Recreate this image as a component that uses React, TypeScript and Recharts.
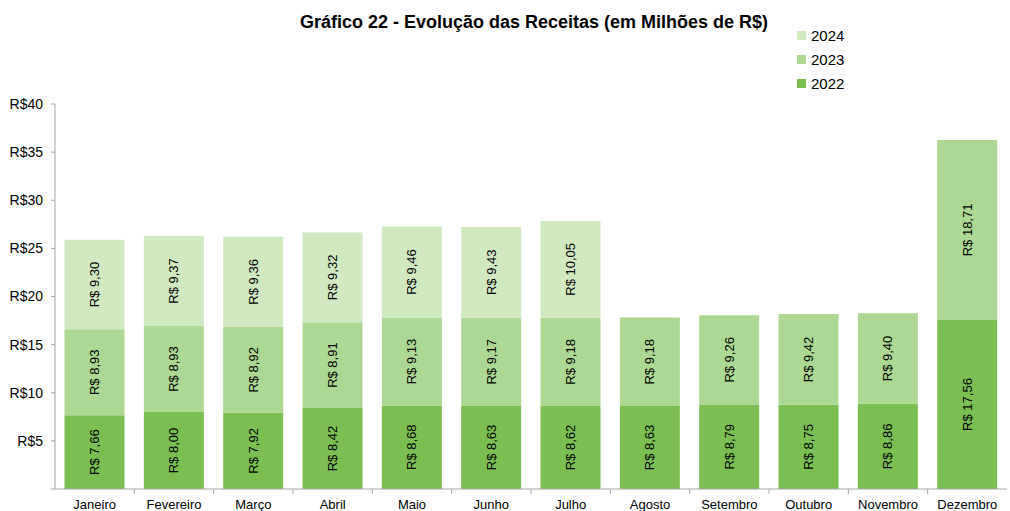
import React from 'react';
import { BarChart, Bar, XAxis, YAxis, LabelList } from 'recharts';

const months = ['Janeiro', 'Fevereiro', 'Março', 'Abril', 'Maio', 'Junho', 'Julho', 'Agosto', 'Setembro', 'Outubro', 'Novembro', 'Dezembro'];
const v2022 = [7.66, 8.0, 7.92, 8.42, 8.68, 8.63, 8.62, 8.63, 8.79, 8.75, 8.86, 17.56];
const v2023 = [8.93, 8.93, 8.92, 8.91, 9.13, 9.17, 9.18, 9.18, 9.26, 9.42, 9.4, 18.71];
const v2024 = [9.3, 9.37, 9.36, 9.32, 9.46, 9.43, 10.05, null, null, null, null, null];
const yTicks = [0, 5, 10, 15, 20, 25, 30, 35, 40];

const colors = { y2022: '#7bbf52', y2023: '#acd893', y2024: '#d0e9c0' };
const font = '"Liberation Sans", Arial, sans-serif';

const data = months.map((m, i) => ({ month: m, y2022: v2022[i], y2023: v2023[i], y2024: v2024[i] }));

const W = 1010;
const H = 511;
const margin = { top: 104, right: 3, left: 0, bottom: 0 };
const yAxisW = 55;
const band = (W - margin.left - margin.right - yAxisW) / months.length;

const fmt = (v: number) => 'R$ ' + v.toFixed(2).replace('.', ',');

const BarLabel = (props: any) => {
  const { x, y, width, height, value } = props;
  if (value == null) return null;
  const cx = x + width / 2;
  const cy = y + height / 2;
  return (
    <text x={cx} y={cy} transform={`rotate(-90 ${cx} ${cy})`} textAnchor="middle" dominantBaseline="central" fontSize={13} fill="#000" fontFamily={font}>
      {fmt(value)}
    </text>
  );
};

const MonthTick = (props: any) => {
  const { x, y, payload, index } = props;
  return (
    <g>
      {index > 0 && <line x1={x - band / 2} x2={x - band / 2} y1={y} y2={y + 5} stroke="#a6a6a6" />}
      <text x={x} y={y + 20} textAnchor="middle" fontSize={13} fill="#000" fontFamily={font}>
        {payload.value}
      </text>
    </g>
  );
};

const legendItems = [
  { key: 'y2024', label: '2024' },
  { key: 'y2023', label: '2023' },
  { key: 'y2022', label: '2022' },
];

export default function App() {
  return (
    <div style={{ position: 'absolute', left: 0, top: 0, width: W, height: H, background: '#fff' }}>
      <div style={{ position: 'absolute', left: 534, top: 12, transform: 'translateX(-50%)', fontFamily: font, fontWeight: 'bold', fontSize: 18, whiteSpace: 'nowrap' }}>
        Gráfico 22 - Evolução das Receitas (em Milhões de R$)
      </div>
      <div style={{ position: 'absolute', left: 797, top: 23, fontFamily: font, fontSize: 15, color: '#000' }}>
        {legendItems.map((it) => (
          <div key={it.key} style={{ display: 'flex', alignItems: 'center', height: 24 }}>
            <span style={{ width: 9, height: 9, background: (colors as any)[it.key], marginRight: 5 }} />
            {it.label}
          </div>
        ))}
      </div>
      <BarChart width={W} height={H} data={data} margin={margin} barCategoryGap="12%">
        <XAxis
          dataKey="month"
          height={22}
          tickSize={0}
          tickMargin={0}
          tickLine={false}
          axisLine={{ stroke: '#a6a6a6' }}
          interval={0}
          tick={<MonthTick />}
        />
        <YAxis
          width={yAxisW}
          domain={[0, 40]}
          ticks={yTicks}
          interval={0}
          tickFormatter={(v: number) => (v === 0 ? '' : `R$${v}`)}
          tick={{ fill: '#000', fontSize: 14, fontFamily: font }}
          tickSize={4}
          tickMargin={8}
          tickLine={{ stroke: '#a6a6a6' }}
          axisLine={{ stroke: '#a6a6a6' }}
        />
        <Bar dataKey="y2022" stackId="a" fill={colors.y2022} isAnimationActive={false}>
          <LabelList dataKey="y2022" content={<BarLabel />} />
        </Bar>
        <Bar dataKey="y2023" stackId="a" fill={colors.y2023} isAnimationActive={false}>
          <LabelList dataKey="y2023" content={<BarLabel />} />
        </Bar>
        <Bar dataKey="y2024" stackId="a" fill={colors.y2024} isAnimationActive={false}>
          <LabelList dataKey="y2024" content={<BarLabel />} />
        </Bar>
      </BarChart>
    </div>
  );
}
